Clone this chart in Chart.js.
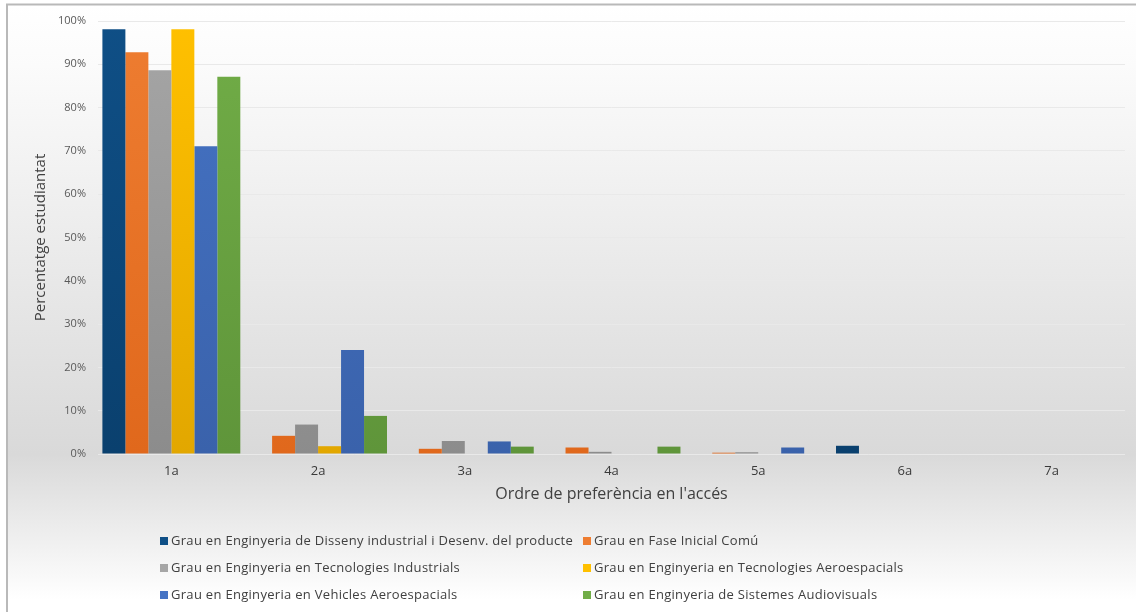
<!DOCTYPE html>
<html>
<head>
<meta charset="utf-8">
<script src="https://cdn.jsdelivr.net/npm/chart.js@4/dist/chart.umd.min.js"></script>
<style>
  html, body { margin: 0; padding: 0; background: #ffffff; }
  #wrap { width: 1136px; height: 612px; position: relative; }
</style>
</head>
<body>
<div id="wrap"><canvas id="c" width="1136" height="612"></canvas></div>
<script>
// ---- Data ----
const categories = ['1a', '2a', '3a', '4a', '5a', '6a', '7a'];
const seriesNames = [
  'Grau en Enginyeria de Disseny industrial i Desenv. del producte',
  'Grau en Fase Inicial Comú',
  'Grau en Enginyeria en Tecnologies Industrials',
  'Grau en Enginyeria en Tecnologies Aeroespacials',
  'Grau en Enginyeria en Vehicles Aeroespacials',
  'Grau en Enginyeria de Sistemes Audiovisuals'
];
const dissenyIndustrial     = [98.1, 0,    0,   0,   0,   1.9, 0];
const faseInicialComu       = [92.8, 4.2,  1.2, 1.5, 0.3, 0,   0];
const tecnologiesIndustrials= [88.6, 6.8,  3.0, 0.5, 0.4, 0,   0];
const tecnologiesAero       = [98.1, 1.8,  0,   0,   0,   0,   0];
const vehiclesAero          = [71.1, 24.0, 2.9, 0,   1.5, 0,   0];
const sistemesAudiovisuals  = [87.1, 8.8,  1.7, 1.7, 0,   0,   0];
const yTickValues = [0, 10, 20, 30, 40, 50, 60, 70, 80, 90, 100];
const yTitle = 'Percentatge estudiantat';
const xTitle = "Ordre de preferència en l'accés";

// ---- Styles ----
const colorsTop    = ['#0f4f86', '#ee7d31', '#a6a6a6', '#ffc000', '#4573c4', '#71ad47'];
const colorsBottom = ['#0a406e', '#e0681c', '#8c8c8c', '#e2a700', '#3a62ab', '#5f953a'];
const FONT = '"Open Sans", "Noto Sans", sans-serif';

function gradFor(i) {
  return (ctx) => {
    const chart = ctx.chart;
    const area = chart.chartArea;
    if (!area) return colorsTop[i];
    const g = chart.ctx.createLinearGradient(0, area.top, 0, area.bottom);
    g.addColorStop(0, colorsTop[i]);
    g.addColorStop(1, colorsBottom[i]);
    return g;
  };
}

const seriesData = [dissenyIndustrial, faseInicialComu, tecnologiesIndustrials,
                    tecnologiesAero, vehiclesAero, sistemesAudiovisuals];

const datasets = seriesData.map((d, i) => ({
  label: seriesNames[i],
  data: d,
  backgroundColor: gradFor(i),
  borderWidth: 0,
  categoryPercentage: 0.94,
  barPercentage: 1.0
}));

// background + frame
const bgPlugin = {
  id: 'bg',
  beforeDraw(chart) {
    const c = chart.ctx;
    const W = chart.width, H = chart.height;
    c.save();
    c.fillStyle = '#ffffff';
    c.fillRect(0, 0, W, H);
    const g = c.createLinearGradient(0, 5, 0, H);
    g.addColorStop(0, '#ffffff');
    g.addColorStop(0.1, '#fbfbfb');
    g.addColorStop(0.74, '#d9d9d9');
    g.addColorStop(0.98, '#ffffff');
    g.addColorStop(1, '#ffffff');
    c.fillStyle = g;
    c.fillRect(8, 5, W - 8, H - 5);
    c.strokeStyle = '#b9b9b9';
    c.lineWidth = 2;
    c.beginPath();
    c.moveTo(7, H);
    c.lineTo(7, 4.5);
    c.lineTo(W, 4.5);
    c.stroke();
    c.restore();
  }
};

// custom two-column legend
const legendPlugin = {
  id: 'legend2col',
  afterDraw(chart) {
    const c = chart.ctx;
    const cols = [160, 583];
    const rows = [541, 568, 595];
    c.save();
    c.font = '13px ' + FONT;
    if ('letterSpacing' in c) c.letterSpacing = '0.3px';
    c.textBaseline = 'middle';
    c.textAlign = 'left';
    chart.data.datasets.forEach((ds, i) => {
      const x = cols[i % 2];
      const y = rows[Math.floor(i / 2)];
      c.fillStyle = colorsTop[i];
      c.fillRect(x, y - 4, 8, 8);
      c.fillStyle = '#404040';
      c.fillText(ds.label, x + 11, y);
    });
    c.restore();
  }
};

new Chart(document.getElementById('c'), {
  type: 'bar',
  data: { labels: categories, datasets },
  options: {
    responsive: false,
    animation: false,
    layout: { padding: { left: 32, right: 11, top: 21, bottom: 108 } },
    plugins: {
      legend: { display: false },
      tooltip: { enabled: false }
    },
    scales: {
      x: {
        grid: { display: false, drawTicks: false },
        border: { display: false },
        ticks: { color: '#3a3a3a', font: { family: FONT, size: 13 }, padding: 9 },
        title: { display: true, text: xTitle, color: '#404040',
                 font: { family: FONT, size: 16 }, padding: { top: 0, bottom: 0 } },
        afterFit(s) { s.height = 50; }
      },
      y: {
        min: 0, max: 100,
        afterBuildTicks(s) { s.ticks = yTickValues.map(v => ({ value: v })); },
        grid: { color: '#e9e9e9', lineWidth: 1, drawTicks: false },
        border: { display: false },
        ticks: { color: '#595959', font: { family: FONT, size: 11 }, padding: 12,
                 callback: (v) => v + '%' },
        title: { display: true, text: yTitle, color: '#404040',
                 font: { family: FONT, size: 15 }, padding: { top: 0, bottom: 0 } },
        afterFit(s) { s.width = 66; }
      }
    }
  },
  plugins: [bgPlugin, legendPlugin]
});
</script>
</body>
</html>
